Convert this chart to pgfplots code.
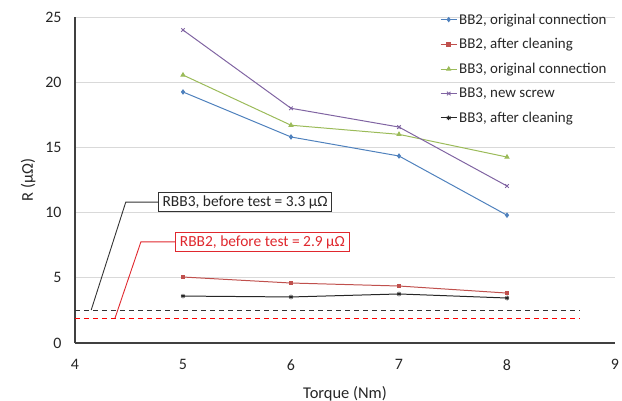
\documentclass[border=0pt]{standalone}
\usepackage{fontspec}
\setmainfont{Carlito}
\usepackage{pgfplots}
\pgfplotsset{compat=1.18}

\definecolor{xblue}{HTML}{4F81BD}
\definecolor{xred}{HTML}{C0504D}
\definecolor{xgreen}{HTML}{9BBB59}
\definecolor{xpurple}{HTML}{8064A2}
\definecolor{xgrid}{HTML}{D9D9D9}
\definecolor{calloutred}{HTML}{E0282E}

\begin{document}
\begin{tikzpicture}
\begin{axis}[
  at={(0,0)}, anchor=south west,
  scale only axis,
  width=540bp, height=326bp,
  xmin=4, xmax=9, ymin=0, ymax=25,
  xtick={4,5,6,7,8,9}, ytick={0,5,10,15,20,25},
  major tick length=0pt,
  axis x line=bottom, axis y line=left,
  axis line style={-, line width=1.3pt, color=black!75},
  ymajorgrids,
  grid style={xgrid, line width=0.9pt},
  /pgf/number format/assume math mode=true,
  tick label style={font=\fontsize{16}{18}\selectfont, color=black!85},
  xticklabel style={yshift=-13bp},
  yticklabel style={xshift=-10bp},
  xlabel={Torque (Nm)},
  ylabel={R (μΩ)},
  label style={font=\fontsize{16.5}{18}\selectfont, color=black!85},
  xlabel style={yshift=-9bp},
  ylabel style={yshift=3bp},
  legend style={draw=none, fill=none, font=\fontsize{15}{17}\selectfont,
    at={(rel axis cs:0.676,1.017)}, anchor=north west,
    row sep=8.9bp, inner sep=0pt, cells={anchor=west, text=black!85}},
  legend image code/.code={
    \draw[mark repeat=2, mark phase=2, #1] plot coordinates {(0bp,0bp) (8bp,0bp) (16bp,0bp)};},
]
\addplot[color=xblue, line width=1pt, mark=diamond*, mark size=2pt]
  coordinates {(5,19.25) (6,15.8) (7,14.34) (8,9.8)};
\addlegendentry{BB2, original connection}
\addplot[color=xred, line width=1pt, mark=square*, mark size=1.8pt]
  coordinates {(5,5.06) (6,4.6) (7,4.37) (8,3.83)};
\addlegendentry{BB2, after cleaning}
\addplot[color=xgreen, line width=1pt, mark=triangle*, mark size=2.2pt]
  coordinates {(5,20.55) (6,16.7) (7,16.0) (8,14.26)};
\addlegendentry{BB3, original connection}
\addplot[color=xpurple, line width=1pt, mark=x, mark size=2.5pt]
  coordinates {(5,24.0) (6,18.0) (7,16.56) (8,12.04)};
\addlegendentry{BB3, new screw}
\addplot[color=black!85, line width=1pt, mark=asterisk, mark size=2.3pt]
  coordinates {(5,3.6) (6,3.53) (7,3.76) (8,3.45)};
\addlegendentry{BB3, after cleaning}

\addplot[forget plot, color=black!80, line width=1pt, dashed, dash pattern=on 5bp off 4bp]
  coordinates {(4,2.53) (8.68,2.53)};
\addplot[forget plot, color=red, line width=1pt, dashed, dash pattern=on 5bp off 4bp]
  coordinates {(4,1.9) (8.68,1.9)};

\draw[black!80, line width=0.9pt] (axis cs:4.15,2.53) -- (axis cs:4.47,10.8) -- (axis cs:4.77,10.8);
\node[draw=black!80, line width=0.9pt, fill=white, anchor=west, inner xsep=4bp, inner ysep=3bp,
  font=\fontsize{15.5}{17}\selectfont, text=black!85] at (axis cs:4.77,10.8) {RBB3, before test = 3.3 μΩ};
\draw[calloutred, line width=0.9pt] (axis cs:4.37,1.9) -- (axis cs:4.61,7.75) -- (axis cs:4.93,7.75);
\node[draw=calloutred, line width=0.9pt, fill=white, anchor=west, inner xsep=4bp, inner ysep=3bp,
  font=\fontsize{15.5}{17}\selectfont, text=calloutred] at (axis cs:4.93,7.75) {RBB2, before test = 2.9 μΩ};
\end{axis}
\pgfresetboundingbox
\path (-75bp,-58bp) rectangle (547bp,343bp);
\end{tikzpicture}
\end{document}
